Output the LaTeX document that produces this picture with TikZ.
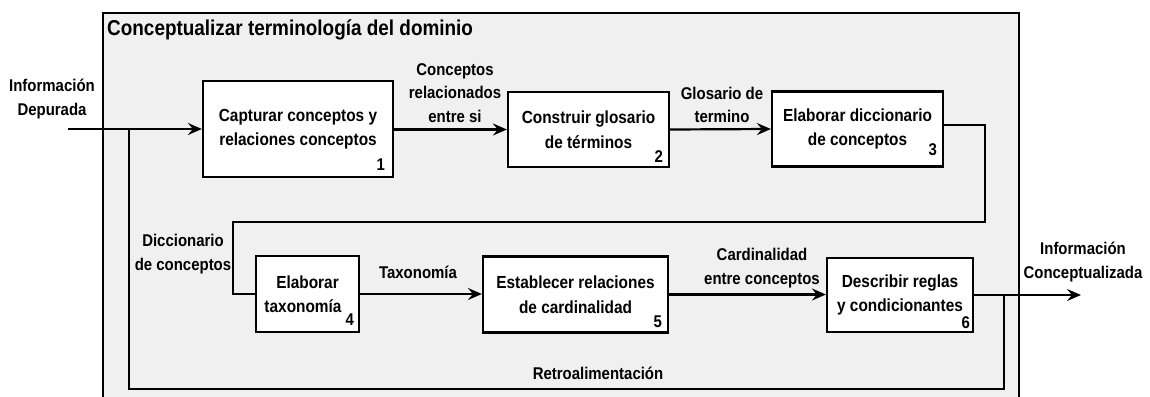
\documentclass[tikz,border=0pt]{standalone}
\usepackage{fontspec}
\setmainfont[FakeStretch=0.88]{Liberation Sans}
\usetikzlibrary{arrows.meta}
\definecolor{bg}{HTML}{F0F0F0}
\tikzset{
 box/.style={draw, line width=2.2pt, fill=white, inner sep=0pt, align=center, font=\bfseries\fontsize{17.5}{24.5}\selectfont},
 lbl/.style={align=center, inner sep=0pt, font=\bfseries\fontsize{17}{23.5}\selectfont},
 num/.style={font=\bfseries\fontsize{17}{18}\selectfont, inner sep=0pt, anchor=south east},
 conn/.style={line width=2.2pt},
 arr/.style={conn, -{Stealth[length=14pt,width=12pt,inset=5pt]}},
 frame/.style={line width=2pt},
}
\begin{document}
\begin{tikzpicture}[x=1pt,y=-1pt]
\useasboundingbox (0,0) rectangle (1150,396);
\fill[white] (0,0) rectangle (1150,396);
\fill[bg] (103,13) rectangle (1019,400);
\draw[frame] (103,400) -- (103,13) -- (1019,13) -- (1019,400);
\node[anchor=west, inner sep=0pt, font=\bfseries\fontsize{21.5}{22}\selectfont] (title) at (107,30) {Conceptualizar terminología del dominio};

% boxes
\node[box, minimum width=190pt, minimum height=96pt] (b1) at (298,129) {Capturar conceptos y\\relaciones conceptos};
\node[box, minimum width=161pt, minimum height=75pt] (b2) at (588.5,129.5) {Construir glosario\\de términos};
\node[box, minimum width=171pt, minimum height=75pt] (b3) at (857.5,129) {Elaborar diccionario\\de conceptos};
\node[box, minimum width=103pt, minimum height=76pt] (b4) at (307.5,294) {Elaborar\\taxonomía\hspace*{9pt}};
\node[box, minimum width=185pt, minimum height=76pt] (b5) at (575.5,294.5) {Establecer relaciones\\de cardinalidad};
\node[box, minimum width=146pt, minimum height=74pt] (b6) at (900,295) {Describir reglas\\y condicionantes};

% numbers
\node[num] (n1) at ([xshift=-9pt,yshift=7pt]b1.south east) {1};
\node[num] (n2) at ([xshift=-7pt,yshift=5pt]b2.south east) {2};
\node[num] (n3) at ([xshift=-7pt,yshift=12pt]b3.south east) {3};
\node[num] (n4) at ([xshift=-6pt,yshift=7pt]b4.south east) {4};
\node[num] (n5) at ([xshift=-7pt,yshift=6pt]b5.south east) {5};
\node[num] (n6) at ([xshift=-4pt,yshift=4pt]b6.south east) {6};

% coordinates
\coordinate (in) at (68,129);
\coordinate (out) at (1081,295);
\coordinate (c1) at (985,222);
\coordinate (c2) at (233,222);
\coordinate (r1) at (1004,295);
\coordinate (r2) at (129,389);

% connectors
\draw[arr] (in) -- (in -| b1.west);
\draw[arr] (b1.east |- b2.west) -- (b2.west);
\draw[arr] (b2.east) -- (b3.west);
\draw[conn] ([yshift=4pt]b3.east) -| (c1) -- (c2) |- (b4.west);
\draw[arr] (b4.east) -- (b4.east -| b5.west);
\draw[arr] (b5.east) -- (b5.east -| b6.west);
\draw[arr] (b6.east) -- (out);
\draw[conn] (r1) |- (r2) -- (r2 |- in);

% labels
\node[lbl] (l1) at (52,99) {Información\\Depurada};
\node[lbl] (l2) at (455,93) {Conceptos\\relacionados\\entre si};
\node[lbl] (l3) at (722,105) {Glosario de\\termino};
\node[lbl] (l4) at (183,254) {Diccionario\\de conceptos};
\node[lbl] (l5) at (418,272) {Taxonomía};
\node[lbl] (l6) at (762,268) {Cardinalidad\\entre conceptos};
\node[lbl] (l7) at (1083,262) {Información\\Conceptualizada};
\node[lbl] (l8) at (598,373) {Retroalimentación};
\end{tikzpicture}
\end{document}
